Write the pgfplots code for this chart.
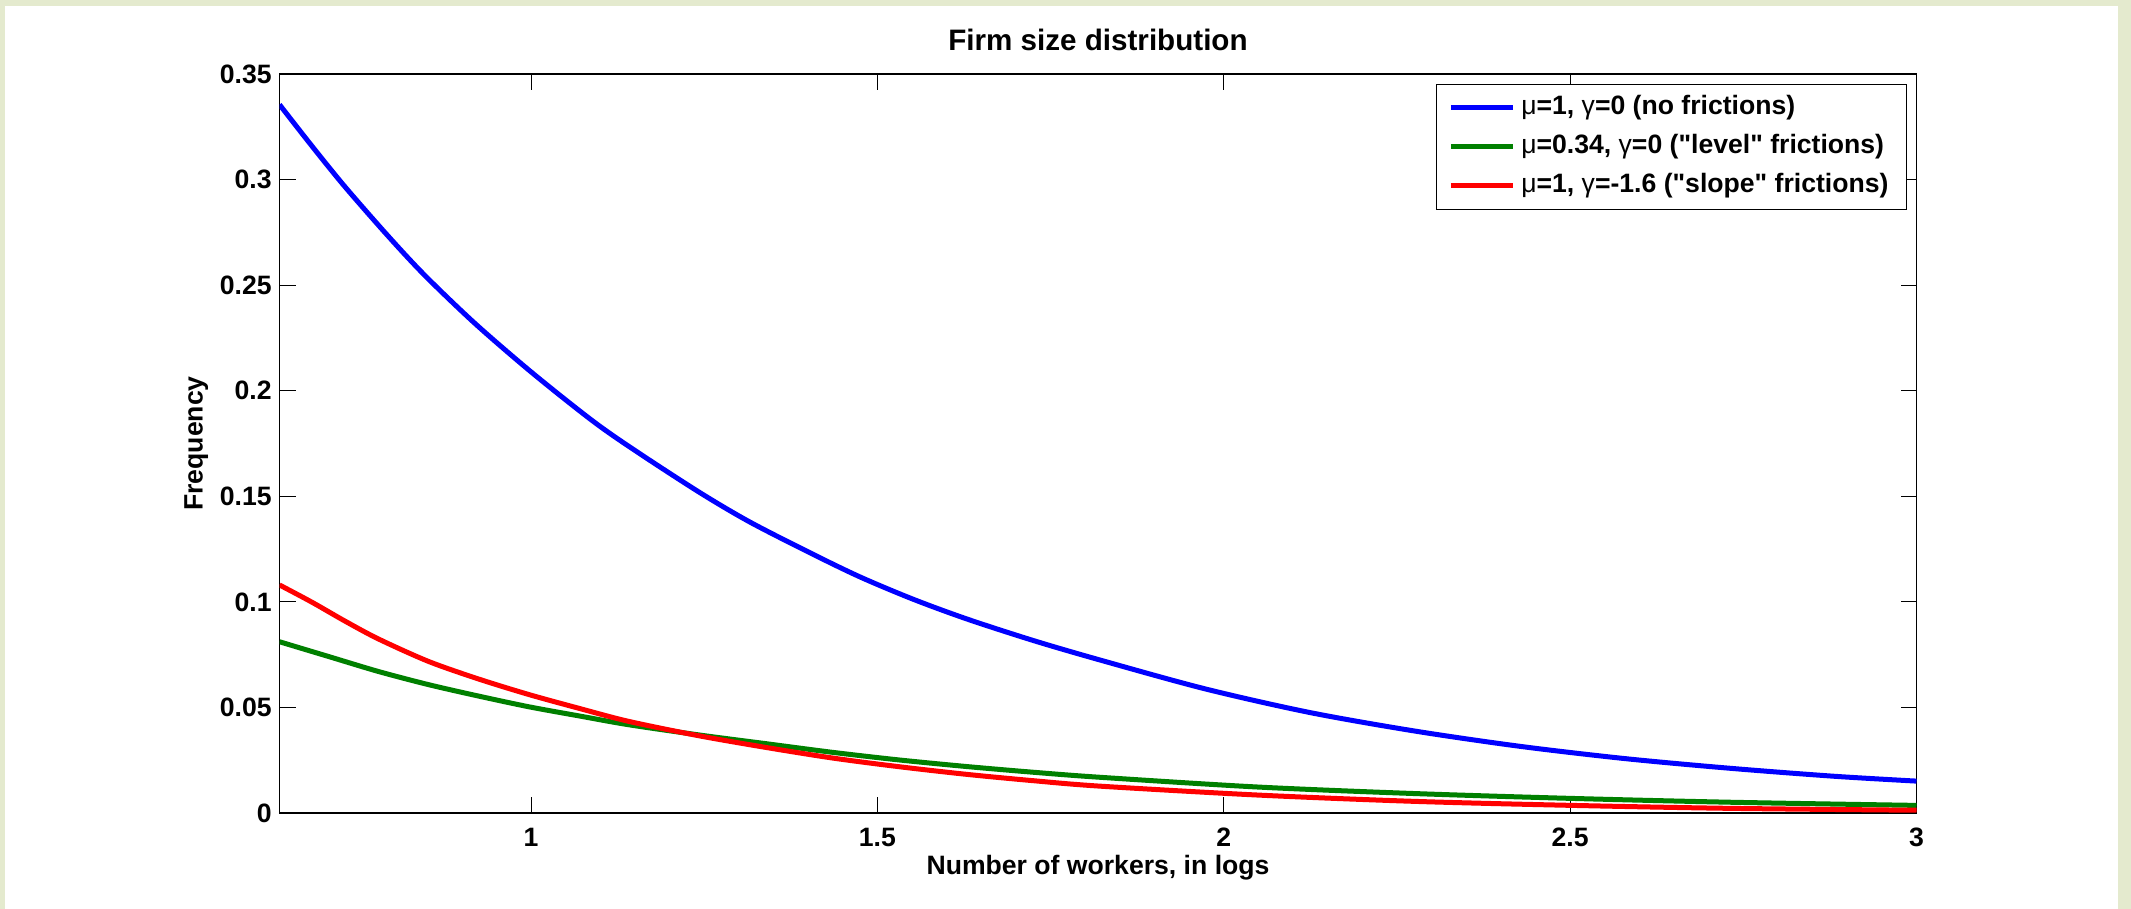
\documentclass[border=0pt]{standalone}
\usepackage{fontspec}
\setmainfont{Liberation Sans}
\usepackage{pgfplots}
\usepackage{pgfplotstable}
\pgfplotsset{compat=1.18}
\definecolor{bgbeige}{RGB}{228,234,206}
\definecolor{mgreen}{RGB}{0,128,0}
\newcommand{\fs}{\fontsize{13.3}{16}\selectfont\bfseries}
\newcommand{\tfs}{\fontsize{14.8}{17.8}\selectfont\bfseries}
\newcommand{\gk}[1]{{\mdseries #1}}

\pgfplotstableread{
x y
0.637 0.3355
0.684 0.3158
0.732 0.2964
0.795 0.2728
0.848 0.2542
0.920 0.2316
1.002 0.2084
1.089 0.1857
1.151 0.1715
1.244 0.1517
1.316 0.1378
1.403 0.1232
1.475 0.1118
1.552 0.1012
1.630 0.0918
1.726 0.0816
1.822 0.0724
1.973 0.0588
2.124 0.0476
2.276 0.0388
2.427 0.0316
2.578 0.0258
2.730 0.0212
2.881 0.0174
3.000 0.0151
}\bluedata

\pgfplotstableread{
x y
0.637 0.0811
0.709 0.0740
0.780 0.0670
0.852 0.0608
0.924 0.0554
0.997 0.0503
1.069 0.0460
1.141 0.0418
1.244 0.0369
1.340 0.0328
1.436 0.0287
1.532 0.0251
1.629 0.0220
1.725 0.0193
1.822 0.0169
2.049 0.0123
2.276 0.0092
2.503 0.0069
2.730 0.0051
3.000 0.0036
}\greendata

\pgfplotstableread{
x y
0.637 0.1080
0.684 0.0998
0.732 0.0908
0.780 0.0824
0.852 0.0718
0.924 0.0635
0.997 0.0561
1.069 0.0496
1.141 0.0434
1.242 0.0366
1.340 0.0310
1.436 0.0260
1.532 0.0219
1.629 0.0183
1.725 0.0153
1.822 0.0127
2.049 0.0085
2.276 0.0055
2.503 0.0036
2.730 0.0022
3.000 0.0013
}\reddata

\begin{document}
\begin{tikzpicture}
\fill[bgbeige] (0,0) rectangle (1065.5pt,454.5pt);
\fill[white] (2.5pt,0pt) rectangle (1059pt,451.5pt);
\useasboundingbox (0,0) rectangle (1065.5pt,454.5pt);
\begin{axis}[
  at={(139.75pt,48pt)}, anchor=south west,
  scale only axis, width=818.5pt, height=369.5pt,
  xmin=0.637, xmax=3, ymin=0, ymax=0.35,
  xtick={1,1.5,2,2.5,3}, xticklabels={1,1.5,2,2.5,3},
  ytick={0,0.05,0.1,0.15,0.2,0.25,0.3,0.35},
  yticklabels={0,0.05,0.1,0.15,0.2,0.25,0.3,0.35},
  tick align=inside, xtick pos=both, ytick pos=both,
  xticklabel pos=left, yticklabel pos=left,
  major tick length=8pt,
  axis line style={line width=0.65pt},
  every tick/.style={black, line width=0.45pt},
  tick label style={font=\fs, text=black},
  xticklabel style={anchor=base, inner sep=0pt, yshift=-17pt},
  yticklabel style={anchor=east, inner sep=0pt, xshift=-3.75pt},
  every axis title shift=0pt,
  title={Firm size distribution},
  title style={font=\tfs, at={(axis description cs:0.5,1)}, anchor=base, inner sep=0pt, yshift=11.85pt},
  xlabel={Number of workers, in logs},
  xlabel style={font=\fs, at={(axis description cs:0.5,0)}, anchor=base, inner sep=0pt, yshift=-31pt},
  ylabel={Frequency},
  ylabel style={font=\fs, at={([xshift=-38.5pt]axis description cs:0,0.5)}, anchor=base, inner sep=0pt},
  legend style={at={(axis description cs:1,1)}, anchor=north east, xshift=-4.75pt, yshift=-4.8pt,
    draw=black, line width=0.5pt, fill=white, font=\fs, inner xsep=6pt, inner ysep=2pt,
    row sep=0pt, nodes={text height=10pt, text depth=3.3pt, inner ysep=3.1pt, inner xsep=3pt}},
  legend cell align=left,
  legend image code/.code={\draw[#1, line width=2.5pt] (0pt,0pt) -- (31pt,0pt);},
]
\addplot[blue, line width=2.5pt, smooth] table {\bluedata};
\addlegendentry{\gk{μ}=1, \gk{γ}=0 (no frictions)}
\addplot[mgreen, line width=2.5pt, smooth] table {\greendata};
\addlegendentry{\gk{μ}=0.34, \gk{γ}=0 (\textquotedbl level\textquotedbl\ frictions)}
\addplot[red, line width=2.5pt, smooth] table {\reddata};
\addlegendentry{\gk{μ}=1, \gk{γ}=-1.6 (\textquotedbl slope\textquotedbl\ frictions)}
\end{axis}
\end{tikzpicture}
\end{document}
